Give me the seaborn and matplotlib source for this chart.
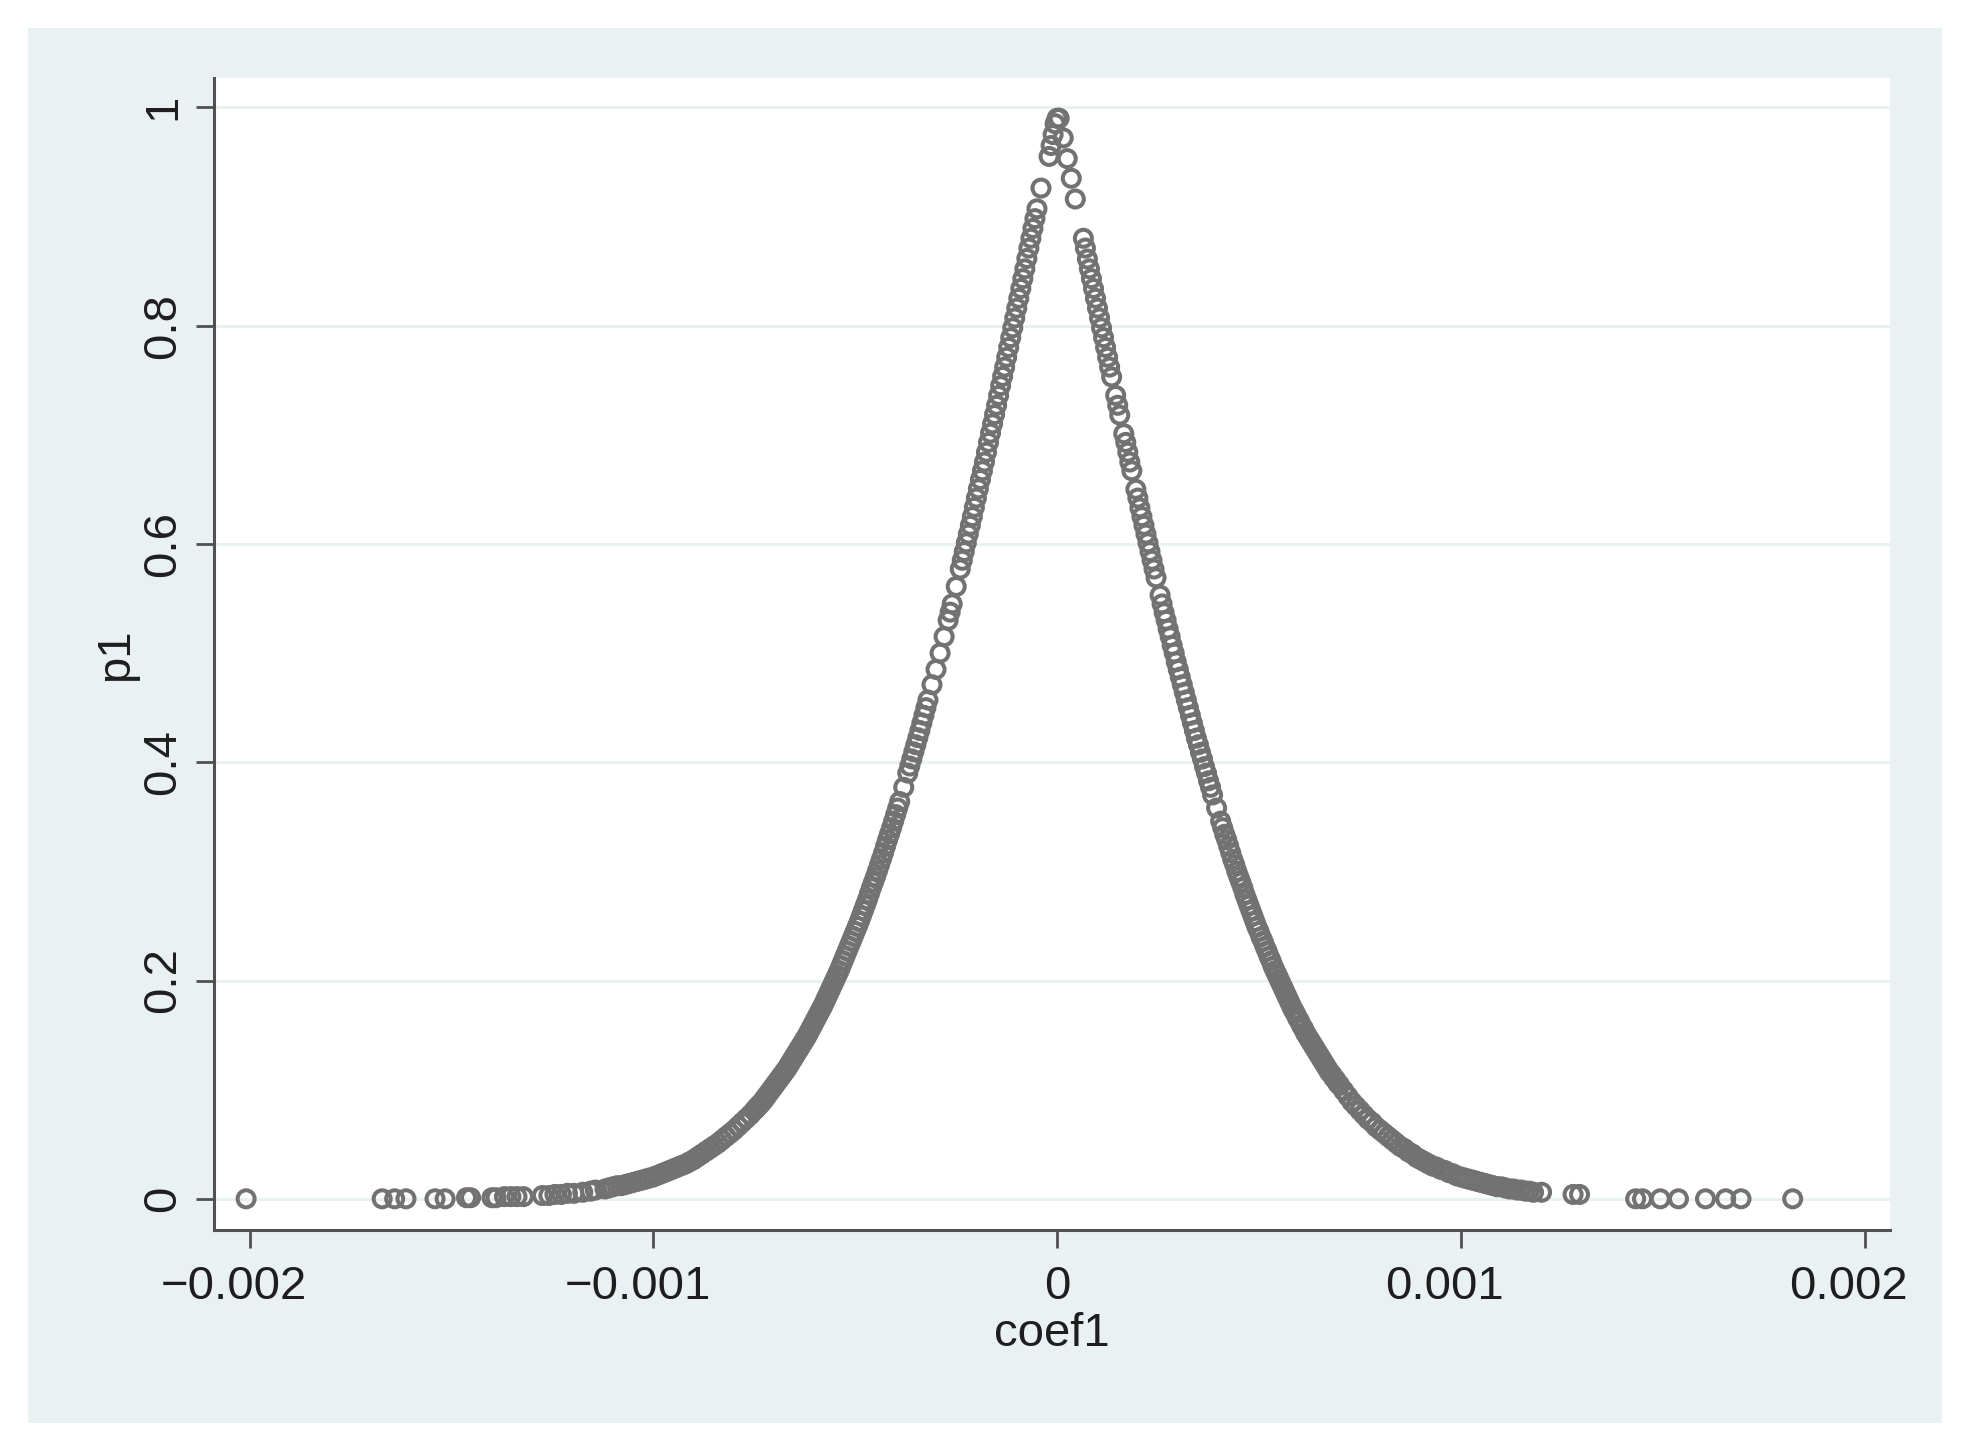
import matplotlib
matplotlib.use("Agg")
import matplotlib.pyplot as plt
import seaborn as sns
import pandas as pd
import numpy as np
from matplotlib.patches import Rectangle
from matplotlib.transforms import ScaledTranslation

# coefficients in thousandths (x 1e-3), p-values
left_coef = [-2.009, -1.672, -1.641, -1.613, -1.541, -1.516, -1.463, -1.453, -1.400, -1.390,
             -1.369, -1.353, -1.338, -1.322, -1.275, -1.259, -1.244, -1.228, -1.213, -1.197,
             -1.175, -1.156, -1.144,
             -1.12, -1.10, -1.08, -1.06, -1.04, -1.02, -1.00, -0.98, -0.96, -0.94, -0.92,
             -0.90, -0.88, -0.86, -0.84, -0.82, -0.80, -0.78, -0.76, -0.74, -0.72, -0.70,
             -0.69, -0.68, -0.67, -0.66, -0.65, -0.64, -0.63, -0.62, -0.61, -0.60,
             -0.59, -0.58, -0.57, -0.56, -0.55, -0.54, -0.53, -0.52, -0.51, -0.50,
             -0.49, -0.48, -0.47, -0.46, -0.45, -0.44, -0.43, -0.42, -0.41, -0.40,
             -0.39, -0.38, -0.37, -0.36, -0.35, -0.34, -0.33, -0.32, -0.31, -0.30,
             -0.29, -0.28, -0.27, -0.26, -0.25, -0.24, -0.23, -0.22, -0.21, -0.20,
             -0.19, -0.18, -0.17, -0.16, -0.15, -0.14, -0.13, -0.12, -0.11, -0.10,
             -0.09, -0.08, -0.07, -0.06, -0.05, -0.04, -0.02, -0.015, -0.01, -0.005, 0.0]
left_p = [0.000, 0.000, 0.000, 0.000, 0.000, 0.000, 0.001, 0.001, 0.001, 0.001,
          0.002, 0.002, 0.002, 0.002, 0.003, 0.003, 0.004, 0.004, 0.005, 0.005,
          0.006, 0.007, 0.008,
          0.009, 0.011, 0.012, 0.014, 0.016, 0.018, 0.020, 0.023, 0.026, 0.029, 0.032,
          0.036, 0.041, 0.046, 0.051, 0.057, 0.063, 0.070, 0.077, 0.085, 0.094, 0.104,
          0.109, 0.114, 0.119, 0.125, 0.131, 0.137, 0.143, 0.149, 0.156, 0.163,
          0.170, 0.177, 0.185, 0.193, 0.201, 0.209, 0.218, 0.227, 0.236, 0.245,
          0.254, 0.264, 0.274, 0.285, 0.295, 0.306, 0.317, 0.329, 0.340, 0.352,
          0.364, 0.377, 0.390, 0.403, 0.416, 0.429, 0.443, 0.457, 0.471, 0.485,
          0.500, 0.515, 0.530, 0.545, 0.561, 0.577, 0.593, 0.609, 0.625, 0.642,
          0.659, 0.675, 0.693, 0.710, 0.727, 0.745, 0.762, 0.780, 0.798, 0.816,
          0.834, 0.852, 0.871, 0.889, 0.907, 0.926, 0.955, 0.965, 0.975, 0.985, 0.990]

# extra observations packed in between on the left branch
left_coef_mid = [-1.11, -1.09, -1.07, -1.05, -1.03, -1.01, -0.99, -0.97, -0.95, -0.93,
                 -0.91, -0.89, -0.87, -0.85, -0.83, -0.81, -0.79, -0.77, -0.75, -0.73, -0.71,
                 -0.745, -0.735, -0.725, -0.715, -0.705, -0.695, -0.685, -0.675, -0.665, -0.655,
                 -0.645, -0.635, -0.625, -0.615, -0.605, -0.595, -0.585, -0.575, -0.565, -0.555,
                 -0.545, -0.535, -0.525, -0.515, -0.505, -0.495, -0.485, -0.475, -0.465, -0.455,
                 -0.445, -0.435, -0.425, -0.415, -0.405, -0.395, -0.365, -0.355, -0.345, -0.335,
                 -0.325, -0.265, -0.235, -0.225, -0.215, -0.205, -0.195, -0.185, -0.175, -0.165,
                 -0.155, -0.145, -0.135, -0.125, -0.115, -0.105, -0.095, -0.085, -0.075, -0.065,
                 -0.055]
left_p_mid = [0.010, 0.012, 0.013, 0.015, 0.017, 0.019, 0.0215, 0.0245, 0.0275, 0.0305,
              0.034, 0.0385, 0.0435, 0.0485, 0.054, 0.060, 0.0665, 0.0735, 0.081, 0.089, 0.099,
              0.083, 0.087, 0.0915, 0.0965, 0.1015, 0.1065, 0.1115, 0.1165, 0.122, 0.128,
              0.134, 0.140, 0.146, 0.1525, 0.1595, 0.1665, 0.1735, 0.181, 0.189, 0.197,
              0.205, 0.2135, 0.2225, 0.2315, 0.2405, 0.2495, 0.259, 0.269, 0.2795, 0.290,
              0.3005, 0.3115, 0.323, 0.3345, 0.346, 0.358, 0.3965, 0.4095, 0.4225, 0.436,
              0.450, 0.5375, 0.585, 0.601, 0.617, 0.6335, 0.6505, 0.667, 0.684, 0.7015,
              0.7185, 0.736, 0.7535, 0.771, 0.789, 0.807, 0.825, 0.843, 0.8615, 0.880,
              0.898]

right_coef = [0.005, 0.015, 0.025, 0.035, 0.045, 0.065, 0.075, 0.085, 0.095,
              0.105, 0.115, 0.125, 0.135, 0.145, 0.155, 0.165, 0.175, 0.185, 0.195,
              0.205, 0.215, 0.225, 0.235, 0.245, 0.255, 0.265, 0.275, 0.285, 0.295,
              0.305, 0.315, 0.325, 0.335, 0.345, 0.355, 0.365, 0.375, 0.385, 0.395,
              0.405, 0.415, 0.425, 0.435, 0.445, 0.455, 0.465, 0.475, 0.485, 0.495,
              0.505, 0.515, 0.525, 0.535, 0.545, 0.555, 0.565, 0.575, 0.585, 0.595,
              0.605, 0.615, 0.625, 0.635, 0.645, 0.655, 0.665, 0.675, 0.685, 0.695,
              0.71, 0.73, 0.75, 0.77, 0.79, 0.81, 0.83, 0.85, 0.87, 0.89, 0.91, 0.93,
              0.95, 0.97, 0.99, 1.01, 1.03, 1.05, 1.07, 1.09, 1.11, 1.13, 1.15, 1.17,
              1.20, 1.278, 1.294,
              1.433, 1.450, 1.494, 1.539, 1.606, 1.656, 1.694, 1.822]
right_p = [0.990, 0.972, 0.953, 0.935, 0.916, 0.880, 0.861, 0.843, 0.825,
           0.807, 0.789, 0.771, 0.753, 0.736, 0.718, 0.701, 0.684, 0.667, 0.650,
           0.633, 0.617, 0.601, 0.585, 0.569, 0.553, 0.537, 0.522, 0.507, 0.492,
           0.478, 0.464, 0.450, 0.436, 0.422, 0.409, 0.396, 0.383, 0.370, 0.358,
           0.346, 0.334, 0.323, 0.311, 0.300, 0.290, 0.279, 0.269, 0.259, 0.249,
           0.240, 0.231, 0.222, 0.213, 0.205, 0.197, 0.189, 0.181, 0.173, 0.166,
           0.159, 0.152, 0.146, 0.140, 0.134, 0.128, 0.122, 0.116, 0.111, 0.106,
           0.099, 0.089, 0.081, 0.073, 0.066, 0.060, 0.054, 0.048, 0.043, 0.038, 0.034, 0.030,
           0.027, 0.024, 0.021, 0.019, 0.017, 0.015, 0.013, 0.011, 0.010, 0.009, 0.008, 0.007,
           0.006, 0.004, 0.004,
           0.000, 0.000, 0.000, 0.000, 0.000, 0.000, 0.000, 0.000]

# extra observations packed in between on the right branch
right_coef_mid = [0.07, 0.08, 0.09, 0.10, 0.11, 0.12, 0.13, 0.15, 0.17, 0.18,
                  0.20, 0.21, 0.22, 0.23, 0.24, 0.26, 0.27, 0.28, 0.29, 0.30,
                  0.31, 0.32, 0.33, 0.34, 0.35, 0.36, 0.37, 0.38, 0.41, 0.42,
                  0.43, 0.44, 0.45, 0.46, 0.47, 0.48, 0.49, 0.50, 0.51, 0.52,
                  0.53, 0.54, 0.55, 0.56, 0.57, 0.58, 0.59, 0.60, 0.61, 0.62,
                  0.63, 0.64, 0.65, 0.66, 0.67, 0.68, 0.69, 0.70, 0.72, 0.74,
                  0.76, 0.78, 0.80, 0.82, 0.84, 0.86, 0.88, 0.90, 0.92, 0.94,
                  0.96, 0.98, 1.00, 1.02, 1.04, 1.06, 1.08, 1.10, 1.12, 1.14,
                  1.16, 1.18]
right_p_mid = [0.871, 0.852, 0.834, 0.816, 0.798, 0.780, 0.762, 0.727, 0.693, 0.675,
               0.642, 0.625, 0.609, 0.593, 0.577, 0.545, 0.530, 0.515, 0.500, 0.485,
               0.471, 0.457, 0.443, 0.429, 0.416, 0.403, 0.390, 0.377, 0.340, 0.329,
               0.317, 0.306, 0.295, 0.285, 0.274, 0.264, 0.254, 0.245, 0.236, 0.227,
               0.218, 0.209, 0.201, 0.193, 0.185, 0.177, 0.170, 0.163, 0.156, 0.149,
               0.143, 0.137, 0.131, 0.125, 0.119, 0.114, 0.109, 0.104, 0.094, 0.085,
               0.077, 0.070, 0.063, 0.057, 0.051, 0.046, 0.041, 0.036, 0.032, 0.029,
               0.026, 0.023, 0.020, 0.018, 0.016, 0.014, 0.012, 0.011, 0.009, 0.008,
               0.007, 0.006]

x_ticks = [-0.002, -0.001, 0, 0.001, 0.002]
x_labels = ["\u22120.002", "\u22120.001", "0", "0.001", "0.002"]
y_ticks = [0, 0.2, 0.4, 0.6, 0.8, 1]
y_labels = ["0", "0.2", "0.4", "0.6", "0.8", "1"]

all_coef = left_coef + left_coef_mid + right_coef + right_coef_mid
all_p = left_p + left_p_mid + right_p + right_p_mid
df = pd.DataFrame({"coef1": np.array(all_coef) * 1e-3, "p1": all_p})

sns.set_style("white")
plt.rcParams["font.family"] = ["Liberation Sans", "DejaVu Sans"]

fig = plt.figure(figsize=(19.78, 14.55), dpi=100)
fig.patch.set_facecolor("white")
# stata-like outer graph region
fig.patches.append(Rectangle((0.014, 0.022), 0.968, 0.959, transform=fig.transFigure,
                             facecolor="#eaf1f3", edgecolor="none", zorder=-5))

ax = fig.add_axes([0.1084, 0.1544, 0.847, 0.7918])
ax.set_zorder(2)
ax.set_facecolor("white")

for yv in y_ticks:
    ax.axhline(yv, color="#eaf1f3", lw=2.2, zorder=0)

sns.scatterplot(data=df, x="coef1", y="p1", ax=ax, marker="o", s=150,
                facecolor="none", edgecolor="#727272", linewidth=2.9, zorder=3)
ax.collections[-1].set_facecolor("none")

ax.set_xlim(-0.0020875, 0.0020625)
ax.set_ylim(-0.0289, 1.0266)

ax.set_xticks(x_ticks)
ax.set_xticklabels(x_labels, fontsize=34, color="#1e1e1e")
ax.set_yticks(y_ticks)
ax.set_yticklabels(y_labels, fontsize=34, color="#1e1e1e", rotation=90, va="center")

ax.tick_params(axis="both", direction="out", length=13, width=2, color="#505050",
               bottom=True, left=True)
ax.tick_params(axis="x", pad=12)
ax.tick_params(axis="y", pad=8)
for side in ["top", "right"]:
    ax.spines[side].set_visible(False)
for side in ["left", "bottom"]:
    ax.spines[side].set_color("#505050")
    ax.spines[side].set_linewidth(2.2)

# multi-character x labels sit a little left of their ticks in the original
shift = ScaledTranslation(-0.16, 0, fig.dpi_scale_trans)
for lab in ax.get_xticklabels():
    if lab.get_text() != "0":
        lab.set_transform(lab.get_transform() + shift)

ax.set_xlabel("coef1", fontsize=34, color="#1e1e1e", labelpad=2)
ax.set_ylabel("p1", fontsize=34, color="#1e1e1e", labelpad=2)

fig.savefig("out.png", dpi=100)
